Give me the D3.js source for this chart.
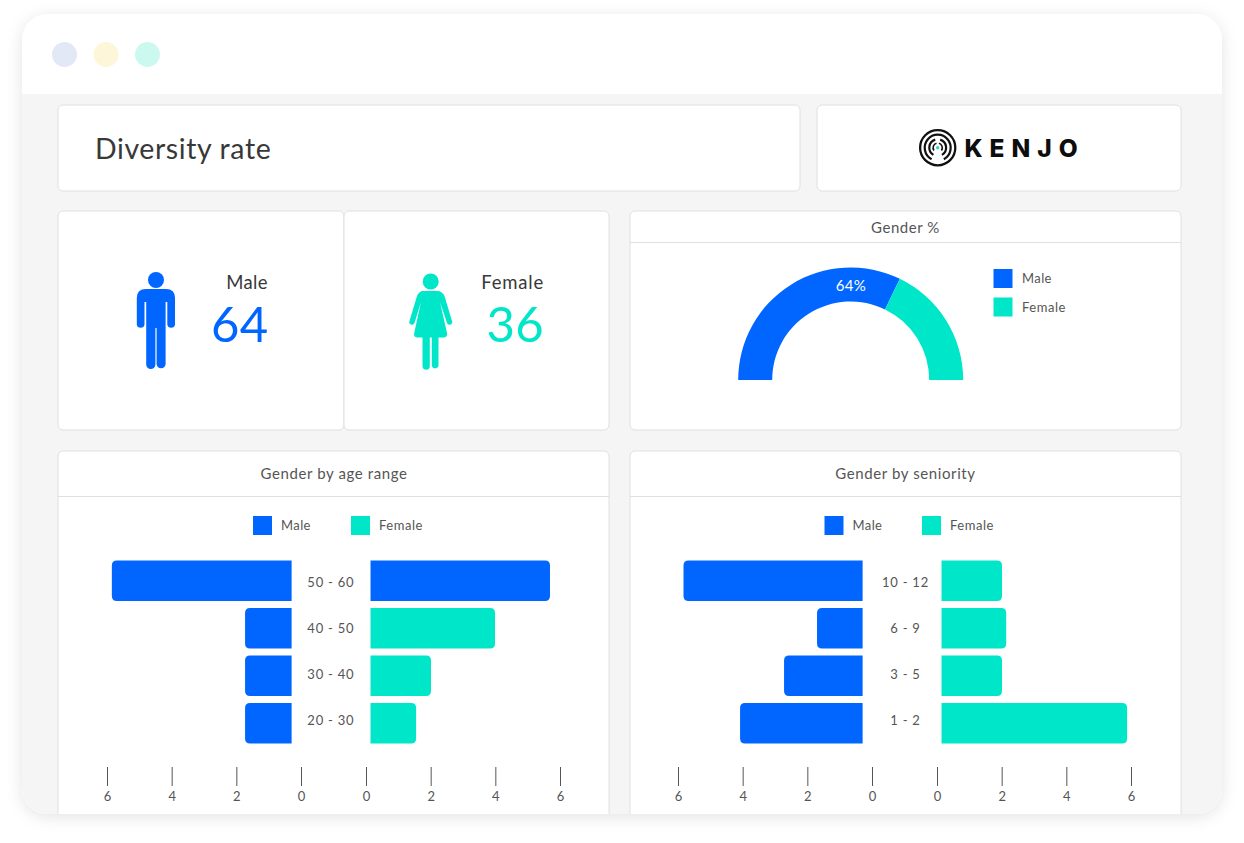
<!DOCTYPE html>
<html>
<head>
<meta charset="utf-8">
<script src="https://cdn.jsdelivr.net/npm/d3@7/dist/d3.min.js"></script>
<style>
html,body{margin:0;padding:0;background:#fff;overflow:hidden}
svg{display:block}
text{font-family:Lato,"Noto Sans",sans-serif}
</style>
</head>
<body>
<script>
// ---- data ----
const pageTitle = "Diversity rate";
const brandName = "KENJO";
const genders = ["Male", "Female"];
const headcount = [64, 36];
const genderShare = [64.4, 35.6];
const ageRanges = ["50 - 60", "40 - 50", "30 - 40", "20 - 30"];
const ageLeft = [5.85, 1.73, 1.73, 1.73];
const ageRight = [5.69, 3.99, 2.01, 1.55];
const seniorityRanges = ["10 - 12", "6 - 9", "3 - 5", "1 - 2"];
const seniorityLeft = [5.83, 1.70, 2.72, 4.08];
const seniorityRight = [2.01, 2.14, 2.01, 5.88];
const axisTicks = [0, 2, 4, 6];
const baseLeft = 0.29, baseRight = 0.14;
// the two-colour quirk of the source: top-right bar of the age chart is blue
const ageRightColors = ["male", "female", "female", "female"];
const seniorityRightColors = ["female", "female", "female", "female"];

const BLUE = "#0066ff", TEAL = "#00e6c8", INK = "#383838", SOFT = "#555555", LINE = "#e0e0e0";

const svg = d3.select("body").append("svg").attr("width", 1244).attr("height", 843);
const defs = svg.append("defs");
const f = defs.append("filter").attr("id", "shadow")
  .attr("x", "-5%").attr("y", "-5%").attr("width", "110%").attr("height", "110%");
f.append("feDropShadow").attr("dx", 0).attr("dy", 3).attr("stdDeviation", 8)
  .attr("flood-color", "#000").attr("flood-opacity", 0.11);
defs.append("clipPath").attr("id", "win").append("rect")
  .attr("x", 22).attr("y", 14).attr("width", 1200).attr("height", 800).attr("rx", 26);

// window
svg.append("rect").attr("x", 22).attr("y", 14).attr("width", 1200).attr("height", 800)
  .attr("rx", 26).attr("fill", "#fff").attr("filter", "url(#shadow)");
const win = svg.append("g").attr("clip-path", "url(#win)");
win.append("rect").attr("x", 22).attr("y", 94).attr("width", 1200).attr("height", 720).attr("fill", "#f5f5f5");

win.selectAll("circle.dot").data(["#e3e8f6", "#fef6d9", "#ccf9ef"]).join("circle")
  .attr("class", "dot").attr("cx", (d, i) => 64.5 + i * 41.5).attr("cy", 54.5).attr("r", 12.5).attr("fill", d => d);

function card(x, y, w, h) {
  win.append("rect").attr("x", x).attr("y", y).attr("width", w).attr("height", h)
    .attr("rx", 5).attr("fill", "#fff").attr("stroke", LINE).attr("stroke-width", 1);
}
function label(txt, x, y, size, color, anchor, ls, weight) {
  return win.append("text").attr("x", x).attr("y", y - 0.3).attr("font-size", size).attr("fill", color)
    .attr("text-anchor", anchor || "start").attr("dominant-baseline", "central")
    .attr("letter-spacing", ls || 0).attr("font-weight", weight || 400).text(txt);
}
function hline(x1, x2, y) {
  win.append("line").attr("x1", x1).attr("x2", x2).attr("y1", y + .5).attr("y2", y + .5).attr("stroke", LINE);
}

card(58, 105, 742, 86);
label(pageTitle, 95, 148.7, 28.5, INK, "start", 0.6);

card(817, 105, 364, 86);
// logo
const logo = win.append("g").attr("transform", "translate(937.7,147.7)").attr("fill", "none").attr("stroke", "#111").attr("stroke-linecap", "round");
logo.append("circle").attr("r", 17.6).attr("stroke-width", 2.3);
const arcGen = d3.arc();
logo.append("path").attr("stroke-width", 2.2)
  .attr("d", arcGen({innerRadius: 13, outerRadius: 13, startAngle: -2.65, endAngle: 2.65}));
[[-2.6, -0.3], [0.3, 2.6]].forEach(([a0, a1]) => {
  logo.append("path").attr("stroke-width", 2.2)
    .attr("d", arcGen({innerRadius: 8.4, outerRadius: 8.4, startAngle: a0, endAngle: a1}));
  logo.append("path").attr("stroke-width", 1.6)
    .attr("d", arcGen({innerRadius: 4.6, outerRadius: 4.6, startAngle: a0 * 0.85, endAngle: a1 * 0.85}));
});
logo.append("circle").attr("r", 1.7).attr("stroke", "none").attr("fill", "#2fd5c0");
label(brandName, 964.5, 148.3, 24.5, "#0d0d0d", "start", 7, 800).style("font-family", "Inter");

// KPI cards
card(58, 211, 286, 219);
card(344, 211, 265, 219);
const male = win.append("g").attr("fill", BLUE);
male.append("circle").attr("cx", 156).attr("cy", 280).attr("r", 8);
male.append("path").attr("d", "M146,289H166Q175,289 175,298V324.500A3.900,3.900 0 0 1 167.300,324.500V302H165.600V364.500A4.600,4.600 0 0 1 156.600,364.500V328H155.400V364.500A4.600,4.600 0 0 1 146.200,364.500V302H144.500V324.500A3.900,3.900 0 0 1 136.800,324.500V298Q136.800,289 146,289Z");
const female = win.append("g").attr("fill", TEAL);
female.append("circle").attr("cx", 430.7).attr("cy", 281.500).attr("r", 8);
female.append("path").attr("d", "M424,291H437C441,291 443,293 444.500,296L452,321A2.600,2.600 0 0 1 447,323L440,302L447,333C447.600,336 446,337.500 443.500,337.500H438.500V366A3.500,3.500 0 0 1 431.800,366V337.500H429.800V366A3.500,3.500 0 0 1 422.500,366V337.500H417.500C415,337.500 413.600,336 414.200,333L421,302L414.500,323A2.600,2.600 0 0 1 409.500,321L417,296C418.500,293 420,291 424,291Z");
label(genders[0], 268, 282, 18.5, INK, "end", 0.4);
label(headcount[0], 268.500, 323.5, 49, BLUE, "end", 0.3);
label(genders[1], 544, 282, 18.5, INK, "end", 0.8);
label(headcount[1], 544, 323.5, 49, TEAL, "end", 0.3);

// gauge
card(630, 211, 551, 219);
hline(630, 1181, 242);
label("Gender %", 905.500, 227, 15, SOFT, "middle", 0.55);
const pie = d3.pie().sort(null).startAngle(-Math.PI / 2).endAngle(Math.PI / 2);
const gaugeArc = d3.arc().innerRadius(78.500).outerRadius(112.500);
win.append("g").attr("transform", "translate(850.700,380)").selectAll("path")
  .data(pie(genderShare)).join("path")
  .attr("d", gaugeArc).attr("fill", (d, i) => i ? TEAL : BLUE);
label(Math.round(genderShare[0]) + "%", 851, 285, 15, "#fff", "middle", 0.3);

const swatch = (x, y, c) => win.append("rect").attr("x", x).attr("y", y).attr("width", 19).attr("height", 19).attr("fill", c);
swatch(993.500, 269, BLUE); swatch(993.500, 297.500, TEAL);
label(genders[0], 1022, 278, 13, SOFT, "start", 0.4);
label(genders[1], 1022, 307, 13, SOFT, "start", 0.55);

// pyramid
function roundedBar(x0, x1, y, h, r) {
  // x0 = inner edge (square), x1 = outer edge (rounded)
  const s = x1 > x0 ? 1 : -1;
  const p = d3.path();
  p.moveTo(x0, y);
  p.lineTo(x1 - s * r, y);
  p.quadraticCurveTo(x1, y, x1, y + r);
  p.lineTo(x1, y + h - r);
  p.quadraticCurveTo(x1, y + h, x1 - s * r, y + h);
  p.lineTo(x0, y + h);
  p.closePath();
  return p.toString();
}
function pyramid(o) {
  card(o.cardX, 451, o.cardW, 400);
  hline(o.cardX, o.cardX + o.cardW, 496);
  label(o.title, o.titleX, 473, 15, SOFT, "middle", 0.6);
  swatch(o.legend[0], 516, BLUE); label(genders[0], o.legend[0] + 28, 525.500, 13, SOFT, "start", 0.4);
  swatch(o.legend[1], 516, TEAL); label(genders[1], o.legend[1] + 28, 525.500, 13, SOFT, "start", 0.55);

  const xL = d3.scaleLinear().domain([0, 6]).range([o.zeroL, o.zeroL - 194]);
  const xR = d3.scaleLinear().domain([0, 6]).range([o.zeroR, o.zeroR + 194]);
  const y = d3.scaleBand().domain(o.cats).range([560.5, 743.5]).paddingInner(0.147).paddingOuter(0);
  const yLabel = d3.scalePoint().domain(o.cats).range([582.3, 720.5]);
  const g = win.append("g");
  g.selectAll("path.l").data(o.cats).join("path").attr("class", "l")
    .attr("d", (c, i) => roundedBar(xL(baseLeft), xL(o.left[i]), y(c), y.bandwidth(), 5)).attr("fill", BLUE);
  g.selectAll("path.r").data(o.cats).join("path").attr("class", "r")
    .attr("d", (c, i) => roundedBar(xR(baseRight), xR(o.right[i]), y(c), y.bandwidth(), 5))
    .attr("fill", (c, i) => o.rightColors[i] === "male" ? BLUE : TEAL);
  o.cats.forEach(c => label(c, o.labelX, yLabel(c), 13, SOFT, "middle", 0.75));

  [xL, xR].forEach(sc => {
    const ax = g.append("g").attr("transform", "translate(0,767)")
      .call(d3.axisBottom(sc).tickValues(axisTicks).tickSize(19).tickPadding(6).tickFormat(d3.format("d")));
    ax.select(".domain").remove();
    ax.selectAll("line").attr("stroke", "#555");
    ax.selectAll("text").attr("fill", SOFT).attr("font-size", 13).style("font-family", "Lato");
  });
}
pyramid({cardX: 58, cardW: 551, titleX: 334, title: "Gender by age range", cats: ageRanges, left: ageLeft, right: ageRight,
  rightColors: ageRightColors, zeroL: 301, zeroR: 366, labelX: 330.8, legend: [253, 351]});
pyramid({cardX: 630, cardW: 551, titleX: 905.5, title: "Gender by seniority", cats: seniorityRanges, left: seniorityLeft, right: seniorityRight,
  rightColors: seniorityRightColors, zeroL: 872, zeroR: 937, labelX: 905.5, legend: [824.500, 922]});
</script>
</body>
</html>
